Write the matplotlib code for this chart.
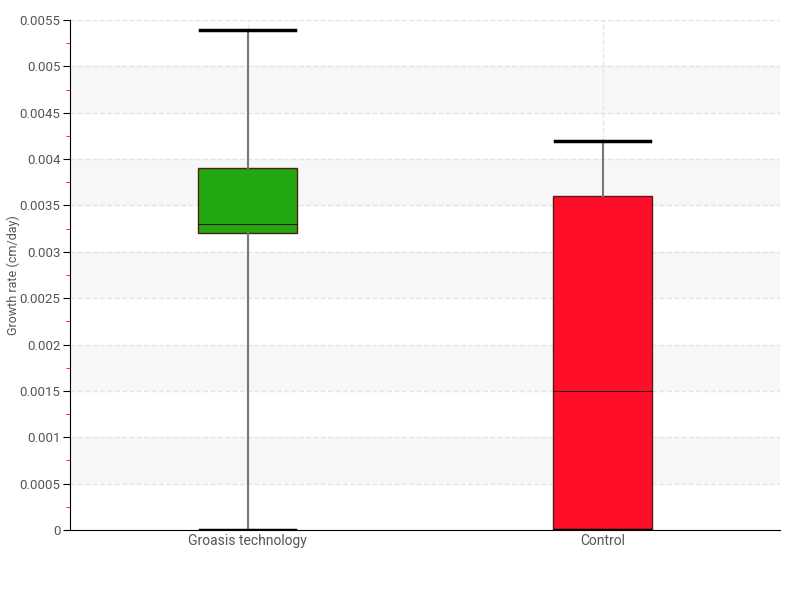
import matplotlib.pyplot as plt
import numpy as np
from matplotlib.ticker import MultipleLocator

# box statistics
labels = ['Groasis technology', 'Control']
whislo = [0.0, 0.0]
q1 = [0.0032, 0.0]
med = [0.0033, 0.0015]
q3 = [0.0039, 0.0036]
whishi = [0.00539, 0.0042]
colors = ['#22a80f', '#ff0e2a']

plt.rcParams['font.family'] = ['Roboto', 'DejaVu Sans']

fig = plt.figure(figsize=(8, 6), dpi=100)
ax = fig.add_axes([70 / 800, 70 / 600, 710 / 800, 510 / 600])

# alternating background bands
for lo in np.arange(0.0005, 0.0055, 0.001):
    ax.axhspan(lo, lo + 0.0005, color='#f7f7f7', zorder=0, lw=0)

stats = []
for i in range(len(labels)):
    stats.append(dict(label=labels[i], whislo=whislo[i], q1=q1[i], med=med[i],
                      q3=q3[i], whishi=whishi[i], fliers=[]))

bp = ax.bxp(stats, positions=range(len(labels)), widths=0.28, patch_artist=True,
            showfliers=False,
            boxprops=dict(edgecolor='#5a1a1a', linewidth=1),
            medianprops=dict(color='#3a1010', linewidth=0.8),
            whiskerprops=dict(color='#777777', linewidth=1.5),
            capprops=dict(color='black', linewidth=2.5), capwidths=0.27)
for patch, c in zip(bp['boxes'], colors):
    patch.set_facecolor(c)
for w in bp['whiskers'] + bp['caps'] + bp['boxes'] + bp['medians']:
    w.set_zorder(3)

ax.set_xlim(-0.5, 1.5)
ax.set_ylim(0, 0.0055)
ax.yaxis.set_major_locator(MultipleLocator(0.0005))
ax.yaxis.set_minor_locator(MultipleLocator(0.00025))
ax.set_yticklabels(['0' if v == 0 else f'{v:g}' for v in ax.get_yticks()])

ax.grid(axis='y', which='major', linestyle='--', color='#e4e4e4', linewidth=1, zorder=1)
ax.grid(axis='x', which='major', linestyle='--', color='#e8e8e8', linewidth=1, zorder=1)
ax.set_axisbelow(True)

for s in ['top', 'right']:
    ax.spines[s].set_visible(False)
ax.spines['left'].set_color('black')
ax.spines['bottom'].set_color('black')

ax.tick_params(axis='y', which='major', length=5, color='black', labelsize=9.5, labelcolor='#555555', pad=2)
ax.tick_params(axis='y', which='minor', length=3, color='red')
ax.tick_params(axis='x', length=0, labelsize=10, labelcolor='#555555', pad=3)

ax.set_ylabel('Growth rate (cm/day)', fontsize=9, color='#555555')
ax.yaxis.set_label_coords(-0.07, 0.5)

fig.savefig('out.png', dpi=100)
